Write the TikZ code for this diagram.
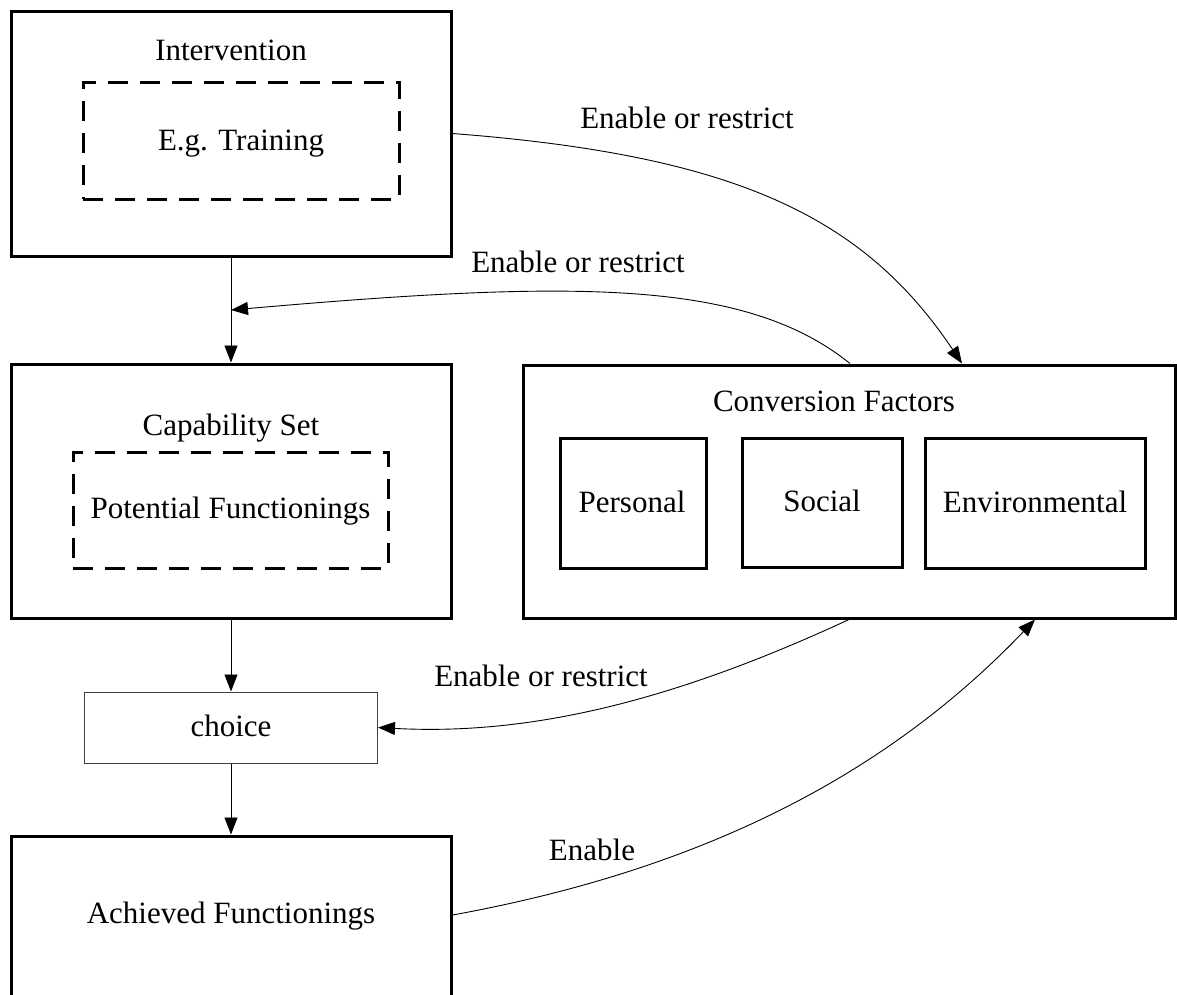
\documentclass[tikz,border=0pt]{standalone}
\usepackage{fontspec}
\setmainfont{Liberation Serif}
\usetikzlibrary{arrows.meta,calc}

\tikzset{
  boxframe/.style={draw, line width=3pt, rectangle, inner sep=0pt},
  dashframe/.style={draw, line width=3pt, rectangle, inner sep=0pt,
    dash pattern=on 20pt off 12pt},
  thinframe/.style={draw=black!75, line width=1pt, rectangle, inner sep=0pt},
  txt/.style={inner sep=0pt, anchor=base, font=\fontsize{31}{36}\selectfont},
  conn/.style={line width=0.9pt, -{Triangle[length=17pt,width=13pt]}},
}

\begin{document}
\begin{tikzpicture}[x=1pt, y=-1pt]
\useasboundingbox (0,0) rectangle (1177,994);

% Intervention
\node[boxframe, minimum width=440pt, minimum height=245pt] (interv) at (231,133.5) {};
\node[txt] (intervT) at (231,60) {Intervention};
\node[dashframe, minimum width=316pt, minimum height=117pt] (train) at (241,140.5) {};
\node[txt] (trainT) at (241,150) {E.g. Training};

% Capability set
\node[boxframe, minimum width=440pt, minimum height=254pt] (capset) at (231,491) {};
\node[txt] (capsetT) at (231,435) {Capability Set};
\node[dashframe, minimum width=315pt, minimum height=116pt] (potent) at (230.5,510) {};
\node[txt] (potentT) at (230.5,518) {Potential Functionings};

% Conversion factors
\node[boxframe, minimum width=652pt, minimum height=253pt] (conv) at (849,491.5) {};
\node[txt] (convT) at (834,411) {Conversion Factors};
\node[boxframe, minimum width=146pt, minimum height=130pt] (pers) at (633,503) {};
\node[txt] (persT) at (632,512) {Personal};
\node[boxframe, minimum width=160pt, minimum height=129pt] (soc) at (822,502.5) {};
\node[txt] (socT) at (822,511) {Social};
\node[boxframe, minimum width=220pt, minimum height=130pt] (env) at (1035,503) {};
\node[txt] (envT) at (1035,512) {Environmental};

% Choice
\node[thinframe, minimum width=293pt, minimum height=71pt] (choice) at (231,727.5) {};
\node[txt] (choiceT) at (231,736) {choice};

% Achieved functionings (runs past the lower edge)
\node[boxframe, minimum width=440pt, minimum height=172pt] (achv) at (231,922) {};
\node[txt] (achvT) at (231,923) {Achieved Functionings};

% Vertical flow
\coordinate (junction) at ($(interv.south)!0.5!(capset.north)$);
\draw[conn] (interv.south) -- (capset.north);
\draw[conn] (capset.south) -- (choice.north);
\draw[conn] (choice.south) -- (achv.north);

% Curved influences
\draw[conn] (interv.east) .. controls (731,155) and (862,214) .. ([xshift=113pt]conv.north);
\node[txt] (lab1) at (687,128) {Enable or restrict};

\draw[conn] ([xshift=1pt]conv.north) .. controls (745,279) and (574.5,280) .. (junction);
\node[txt] (lab2) at (578,272) {Enable or restrict};

\draw[conn] (conv.south) .. controls (669,703) and (527,735.5) .. (choice.east);
\node[txt] (lab3) at (541,686) {Enable or restrict};

\draw[conn] ([yshift=7pt]achv.east) .. controls (700,870) and (885,776.5) .. ([xshift=186pt]conv.south);
\node[txt] (lab4) at (592,860) {Enable};
\end{tikzpicture}
\end{document}
